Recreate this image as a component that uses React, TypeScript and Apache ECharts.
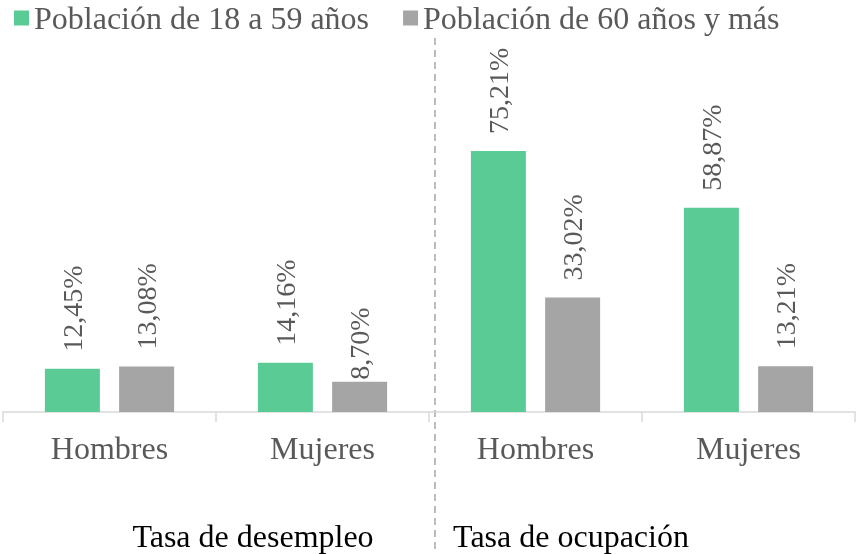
import React, { useEffect, useRef } from "react";
import * as echarts from "echarts";

const categories = ["Hombres", "Mujeres", "Hombres", "Mujeres"];
const groupLabels = ["Tasa de desempleo", "Tasa de ocupación"];
const seriesNames = ["Población de 18 a 59 años", "Población de 60 años y más"];
const young = [12.45, 14.16, 75.21, 58.87];
const older = [13.08, 8.7, 33.02, 13.21];

const FONT = "'Liberation Serif', 'Times New Roman', serif";

const fmt = (v: number) => v.toFixed(2).replace(".", ",") + "%";

export default function App() {
  const ref = useRef<HTMLDivElement>(null);
  useEffect(() => {
    if (!ref.current) return;
    const chart = echarts.init(ref.current, undefined, { renderer: "svg" });
    const label = {
      show: true,
      position: "top",
      rotate: 90,
      align: "left",
      verticalAlign: "middle",
      distance: 17,
      color: "#595959",
      fontSize: 28,
      fontFamily: FONT,
      formatter: (p: any) => fmt(p.value),
    };
    chart.setOption({
      animation: false,
      legend: {
        data: seriesNames,
        left: 14,
        top: 2,
        padding: 0,
        icon: "rect",
        itemWidth: 15,
        itemHeight: 15,
        itemGap: 34,
        textStyle: { fontSize: 32, fontFamily: FONT, color: "#595959", lineHeight: 32 },
      },
      grid: { left: 3, right: 4, top: 65, bottom: 142 },
      xAxis: {
        type: "category",
        data: categories,
        axisLine: { lineStyle: { color: "#D9D9D9", width: 1.5 } },
        axisTick: { show: true, length: 10, lineStyle: { color: "#D9D9D9", width: 1.5 } },
        axisLabel: { fontSize: 32, fontFamily: FONT, color: "#595959", margin: 20 },
      },
      yAxis: { type: "value", min: 0, max: 100, show: false, splitLine: { show: false } },
      series: [
        {
          name: seriesNames[0],
          type: "bar",
          data: young,
          barWidth: 55,
          barGap: "35%",
          itemStyle: { color: "#5ACB95" },
          label,
        },
        {
          name: seriesNames[1],
          type: "bar",
          data: older.map((v, i) => (i === 1 ? { value: v, label: { distance: 2 } } : v)),
          barWidth: 55,
          barGap: "35%",
          itemStyle: { color: "#A5A5A5" },
          label,
        },
      ],
      graphic: [
        {
          type: "line",
          shape: { x1: 435, y1: 38, x2: 435, y2: 554 },
          style: { stroke: "#A6A6A6", lineWidth: 1.5, lineDash: [7, 5] },
        },
        {
          type: "text",
          x: 253,
          y: 536,
          style: { text: groupLabels[0], fontSize: 32, fontFamily: FONT, fill: "#000", align: "center", verticalAlign: "middle" },
        },
        {
          type: "text",
          x: 571,
          y: 536,
          style: { text: groupLabels[1], fontSize: 32, fontFamily: FONT, fill: "#000", align: "center", verticalAlign: "middle" },
        },
      ],
    });
    return () => chart.dispose();
  }, []);
  return <div ref={ref} style={{ width: 859, height: 554, position: "fixed", left: 0, top: 0 }} />;
}
